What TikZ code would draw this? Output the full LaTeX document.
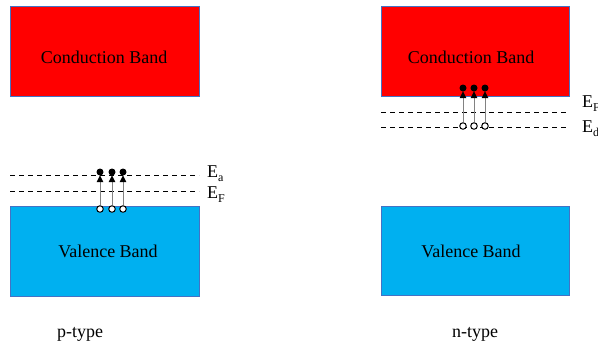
\documentclass[tikz,border=0pt]{standalone}
\usepackage{fontspec}
\setmainfont{Liberation Serif}
\usetikzlibrary{arrows.meta}
\definecolor{cbred}{RGB}{255,0,0}
\definecolor{vbblue}{RGB}{0,176,240}
\definecolor{edgeblue}{RGB}{68,114,196}
\definecolor{arrgray}{RGB}{130,130,130}
\tikzset{
  band/.style={draw=edgeblue, line width=0.9pt},
  lbl/.style={font=\fontsize{18}{20}\selectfont, inner sep=0pt},
  elev/.style={font=\fontsize{18}{20}\selectfont, inner sep=0pt, anchor=west},
  level/.style={black, line width=0.8pt, dash pattern=on 5pt off 4pt},
  hole/.style={circle, draw=black, fill=white, line width=1pt, minimum size=6.5pt, inner sep=0pt},
  elec/.style={circle, fill=black, minimum size=7pt, inner sep=0pt},
  exc/.style={draw=arrgray, line width=0.9pt, -{Triangle[length=7pt,width=6.5pt,color=black]}, shorten >=-0.5pt}
}
\newcommand{\sbs}[1]{\raisebox{-4pt}{\fontsize{12}{12}\selectfont #1}}
\begin{document}
\begin{tikzpicture}[x=1pt,y=-1pt]
\useasboundingbox (0,0) rectangle (598,346);
% p-type
\draw[band, fill=cbred] (10,6) rectangle (199,96);
\node[lbl] (cbl) at (104,57) {Conduction Band};
\draw[band, fill=vbblue] (10,206) rectangle (199,296);
\node[lbl] (vbl) at (108,251) {Valence Band};
\draw[level] (10,175) -- (199,175);
\draw[level] (10,191) -- (199,191);
\node[elev] (ea) at (207,174) {E\sbs{a}};
\node[elev] (efl) at (207,195) {E\sbs{F}};
\foreach \i/\x in {1/100,2/112,3/123}{
  \node[hole] (lh\i) at (\x,209) {};
  \node[elec] (le\i) at (\x,172) {};
  \draw[exc] (lh\i) -- (le\i);
}
\node[lbl] (pt) at (80,334) {p-type};
% n-type
\draw[band, fill=cbred] (381,6) rectangle (569,96);
\node[lbl] (cbr) at (471,57) {Conduction Band};
\draw[band, fill=vbblue] (381,206) rectangle (569,295);
\node[lbl] (vbr) at (471,251) {Valence Band};
\draw[level] (381,112) -- (569,112);
\draw[level] (381,127) -- (569,127);
\node[elev] (efr) at (582,104) {E\sbs{F}};
\node[elev] (ed) at (582,129) {E\sbs{d}};
\foreach \i/\x in {1/463,2/474,3/485}{
  \node[hole] (rh\i) at (\x,126) {};
  \node[elec] (re\i) at (\x,88) {};
  \draw[exc] (rh\i) -- (re\i);
}
\node[lbl] (nt) at (475,334) {n-type};
\end{tikzpicture}
\end{document}
